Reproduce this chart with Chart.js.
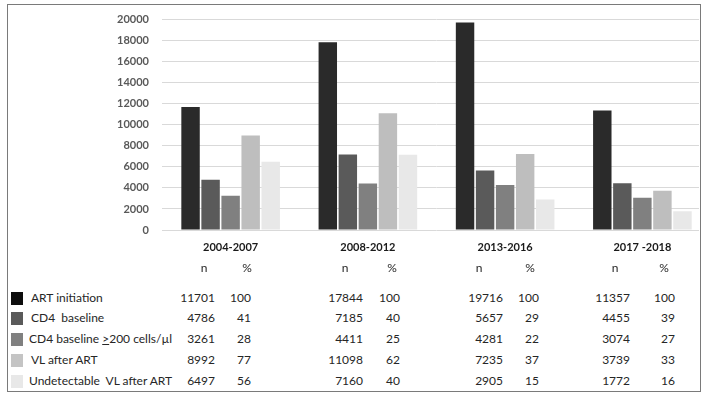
<!DOCTYPE html>
<html>
<head>
<meta charset="utf-8">
<script src="https://cdn.jsdelivr.net/npm/chart.js@4.4.0/dist/chart.umd.min.js"></script>
<style>
  body { margin: 0; background: #fff; }
  #page { position: relative; width: 705px; height: 395px; overflow: hidden; font-family: Lato, "Open Sans", sans-serif; color: #262626; }
  #clip { position: absolute; left: 0; top: 0; width: 699px; height: 262px; overflow: hidden; }
  #frame { position: absolute; left: 7px; top: 4px; width: 694px; height: 388px; box-sizing: border-box; border: 1px solid #7a7a7a; pointer-events: none; }
  .t { position: absolute; font-size: 12px; line-height: 14px; white-space: nowrap; }
  .sw { position: absolute; width: 12px; height: 13px; }
</style>
</head>
<body>
<div id="page">
  <div id="clip"><canvas id="myChart" width="711" height="262"></canvas></div>
  <div id="table"></div>
  <div id="frame"></div>
</div>
<script>
// Data
const periods = ['2004-2007', '2008-2012', '2013-2016', '2017 -2018'];
const seriesNames = ['ART initiation', 'CD4  baseline', 'CD4 baseline \u2265200 cells/\u00b5l', 'VL after ART', 'Undetectable  VL after ART'];
const artInitiation = [11701, 17844, 19716, 11357];
const cd4Baseline = [4786, 7185, 5657, 4455];
const cd4Above200 = [3261, 4411, 4281, 3074];
const vlAfterArt = [8992, 11098, 7235, 3739];
const undetectableVl = [6497, 7160, 2905, 1772];
const artPct = [100, 100, 100, 100];
const cd4Pct = [41, 40, 29, 39];
const cd4Above200Pct = [28, 25, 22, 27];
const vlPct = [77, 62, 37, 33];
const undetectablePct = [56, 40, 15, 16];
const yTicks = [0, 2000, 4000, 6000, 8000, 10000, 12000, 14000, 16000, 18000, 20000];

const colors = ['#2a2a2a', '#5a5a5a', '#808080', '#bebebe', '#e8e8e8'];
const swatchColors = ['#0d0d0d', '#5a5a5a', '#808080', '#c4c4c4', '#e8e8e8'];
const counts = [artInitiation, cd4Baseline, cd4Above200, vlAfterArt, undetectableVl];
const pcts = [artPct, cd4Pct, cd4Above200Pct, vlPct, undetectablePct];

document.addEventListener('DOMContentLoaded', function() {
    const ctx = document.getElementById('myChart').getContext('2d');

    new Chart(ctx, {
        type: 'bar',
        data: {
            labels: periods,
            datasets: seriesNames.map(function(name, i) {
                return {
                    label: name,
                    data: counts[i],
                    backgroundColor: colors[i],
                    borderWidth: 0,
                    barPercentage: 0.92,
                    categoryPercentage: 0.73
                };
            })
        },
        options: {
            responsive: false,
            animation: false,
            devicePixelRatio: 1,
            layout: { padding: { top: 18, left: 0, right: 0, bottom: 0 } },
            plugins: { legend: { display: false }, tooltip: { enabled: false } },
            scales: {
                x: {
                    grid: { display: false },
                    border: { display: false },
                    ticks: {
                        color: '#1a1a1a',
                        font: { family: 'Lato', size: 11, weight: 'bold' },
                        padding: 3,
                        maxRotation: 0
                    },
                    afterFit: function(scale) { scale.height = 32; }
                },
                y: {
                    min: 0,
                    max: 20000,
                    afterBuildTicks: function(scale) {
                        scale.ticks = yTicks.map(function(v) { return { value: v }; });
                    },
                    grid: { color: '#d9d9d9', lineWidth: 1, drawTicks: false },
                    border: { display: false },
                    ticks: {
                        color: '#595959',
                        font: { family: 'Lato', size: 11, weight: 'bold' },
                        padding: 13,
                        callback: function(value) { return String(value); }
                    },
                    afterFit: function(scale) { scale.width = 162; }
                }
            }
        }
    });

    // Table under the chart
    const table = document.getElementById('table');
    const nRight = [215, 363, 503, 630];
    const pctRight = [251, 400, 539, 675];
    const nHead = [204, 345, 479, 615];
    const pctHead = [247, 392, 530, 664];
    const rowY = [298, 318, 339, 360, 381];
    const headY = 268;

    function addText(html, x, y, align) {
        const d = document.createElement('div');
        d.className = 't';
        d.innerHTML = html;
        d.style.top = (y - 7) + 'px';
        if (align === 'right') {
            d.style.left = (x - 100) + 'px';
            d.style.width = '100px';
            d.style.textAlign = 'right';
        } else if (align === 'center') {
            d.style.left = (x - 50) + 'px';
            d.style.width = '100px';
            d.style.textAlign = 'center';
        } else {
            d.style.left = x + 'px';
        }
        table.appendChild(d);
    }

    periods.forEach(function(p, j) {
        addText('n', nHead[j], headY, 'center');
        addText('%', pctHead[j], headY, 'center');
    });

    seriesNames.forEach(function(name, i) {
        const sw = document.createElement('div');
        sw.className = 'sw';
        sw.style.left = '11px';
        sw.style.top = (rowY[i] - 6) + 'px';
        sw.style.background = swatchColors[i];
        table.appendChild(sw);
        const label = name.replace(/ /g, '&nbsp;').replace('\u2265', '<u>&gt;</u>');
        addText(label, i === 2 || i === 4 ? 29 : 31, rowY[i], 'left');
        periods.forEach(function(p, j) {
            addText(String(counts[i][j]), nRight[j], rowY[i], 'right');
            addText(String(pcts[i][j]), pctRight[j], rowY[i], 'right');
        });
    });
});
</script>
</body>
</html>
